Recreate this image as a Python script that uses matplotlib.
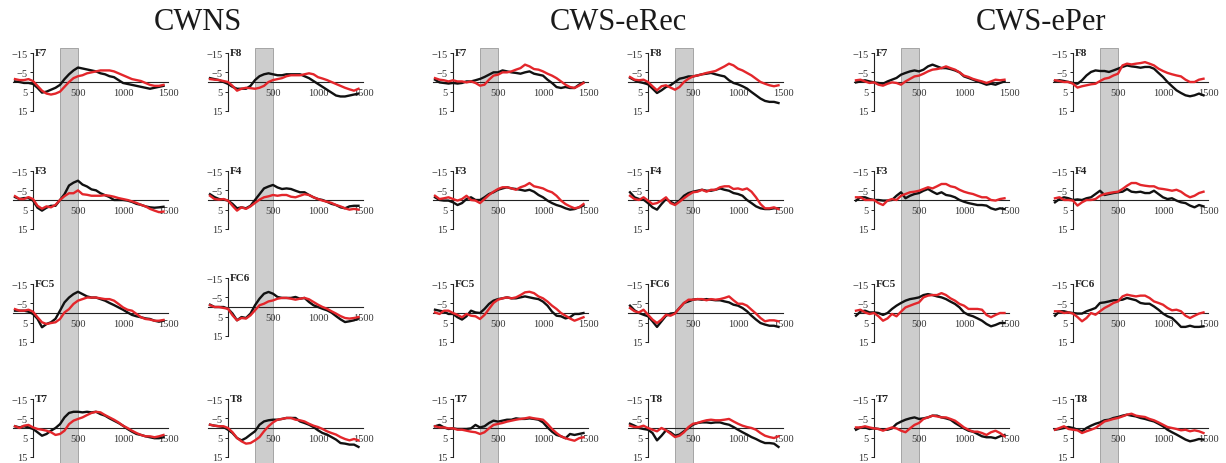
import matplotlib.pyplot as plt
from matplotlib.patches import Rectangle
from matplotlib.transforms import blended_transform_factory

plt.rcParams['font.family'] = ['Liberation Serif', 'DejaVu Serif']

# time axis (ms) and the three groups / electrode layout
times = list(range(-200, 1500, 50))
groups = ['CWNS', 'CWS-eRec', 'CWS-ePer']
channels = [['F7', 'F8'], ['F3', 'F4'], ['FC5', 'FC6'], ['T7', 'T8']]
window = (300, 500)
y_ticks = [-15, -5, 5, 15]
x_ticks = [500, 1000, 1500]

# amplitudes in microvolts (negative up), black and red traces
cwns_f7_k = [-0.3, 0, 0.5, 0.5, 1, 3, 5.5, 5, 4, 3, 1.5, -1.5, -4, -6, -7.5, -7, -6.5, -6, -5.5, -4.5, -4, -3, -2.5, -1, 0.5, 1, 1.5, 2, 2.5, 3, 3.5, 3, 2.5, 2]
cwns_f7_r = [-1.5, -1, -1, -1.5, -0.5, 2, 4.5, 6, 6.5, 6, 5, 2.5, 0, -2, -3, -3.5, -4.5, -5, -5.5, -6, -6, -6, -5.5, -4.5, -3.5, -2.5, -1.5, -1, -0.5, 0.5, 1.5, 2, 2, 1.5]
cwns_f8_k = [-2, -1.5, -1, 0, 1, 2.5, 3.5, 3.5, 3.5, 2, -1, -3, -4, -4.5, -4, -3.5, -3.5, -4, -4, -4, -4, -3, -2, -0.5, 1, 2.5, 4, 5.5, 7, 7.5, 7.5, 7, 6.5, 6]
cwns_f8_r = [-1.5, -1.2, -1, -0.5, 0, 2, 4.5, 3.5, 3, 3.2, 3.5, 3, 2, 0, -1, -1.5, -2, -3, -3.5, -3.5, -3.5, -4, -4.5, -4, -2.5, -1.8, -1, 0, 1, 2, 3, 3.8, 4.5, 3.5]
cwns_f3_k = [-1.5, -0.5, -1, -1, 0.3, 4, 5.5, 4, 3, 3, 0, -3, -7.5, -9, -10, -8, -7, -5.5, -5, -3.5, -2.5, -1.5, 0, 0, 0, 0.3, 1, 2, 2.5, 3.3, 3.8, 4, 3.8, 3.5]
cwns_f3_r = [-2, -0.5, -0.5, -1.5, -0.5, 3, 4.5, 3.3, 3.8, 2.5, 0, -2, -3.5, -3.5, -5, -3, -2.7, -2.2, -2.2, -2.2, -2.5, -2.2, -1.7, -1, -0.5, 0, 0.7, 1.5, 2.5, 3.3, 4.6, 5.5, 6.3, 6]
cwns_f4_k = [-3, -1.5, -0.5, -0.2, 0.3, 2, 4.3, 3.8, 4.3, 3, 0, -3, -6, -7, -7.8, -6.5, -5.7, -6, -5.7, -4.8, -4, -4, -2.6, -1.4, -0.5, 0, 0.9, 2, 2.6, 3.8, 4.3, 3.3, 3, 3]
cwns_f4_r = [-2.2, -0.5, -0.2, -0.5, 0.3, 3, 5.5, 3.8, 4.6, 3.3, 1.5, -0.2, -1.4, -1.9, -2.6, -2.2, -2.6, -2.6, -1.7, -1.4, -2.2, -3, -2.6, -1.4, -0.5, 0.3, 0.9, 1.5, 2.6, 3.3, 4.3, 5, 4.6, 5]
cwns_fc5_k = [-1.2, -1.2, -1.2, -0.7, 0.5, 3, 7.4, 5.7, 4.8, 3, -1.2, -5.5, -8, -9.8, -11, -9.8, -8.6, -8, -8, -7.2, -6.4, -5.2, -4.1, -2.9, -1.7, -0.3, 1, 1.7, 2.2, 2.8, 3.1, 4, 4.5, 4]
cwns_fc5_r = [-2, -1.2, -1.2, -1.7, -0.7, 2.2, 4.8, 5.7, 5.2, 4.8, 3.1, -0.3, -2, -4.7, -6.4, -7.2, -8, -8, -8, -7.6, -7.2, -7.2, -6.4, -4.7, -2.9, -1.7, -1.2, 0.5, 2.2, 3.1, 3.4, 4, 4, 3.6]
cwns_fc6_k = [-1.2, 0, 0, 0, 0.9, 3.4, 6.9, 5.2, 5.7, 3.4, -0.9, -4.3, -6.9, -7.8, -6.9, -5.2, -4.7, -4.7, -4.7, -5.2, -4.3, -4.7, -2.6, -0.9, 0, 0.9, 1.7, 2.9, 4.7, 6.4, 7.8, 7.4, 6.9, 6]
cwns_fc6_r = [-0.9, 0, 0, 0.5, 0.9, 4.3, 6.9, 5.7, 6, 4.3, 1.7, -0.9, -1.7, -2.9, -3.4, -4.3, -4.7, -4.7, -4.3, -3.8, -4.3, -4.7, -4, -2.6, -1.2, 0, 0.9, 2.2, 3.4, 4.7, 5.7, 6, 5.7, 5.2]
cwns_t7_k = [-0.9, -0.3, -0.9, -0.3, 0.5, 2.2, 4, 3.1, 1.4, 0, -2, -5.5, -7.8, -8.4, -8.4, -8.1, -8.4, -8.1, -8.4, -7.2, -6.4, -5, -3.8, -2.6, -1.2, 0.5, 1.9, 3.1, 3.6, 4.3, 4.8, 5.3, 5.3, 4.8]
cwns_t7_r = [-0.9, 0, -1.2, -1.6, -0.3, 0.5, 0.9, 1.4, 2.2, 3.6, 3.1, 1.4, -2, -3.8, -4.7, -5.5, -6.7, -7.8, -8.4, -8.1, -6.7, -5.5, -4.3, -2.9, -1.2, 0, 1.4, 2.6, 3.6, 4.3, 4.3, 4.8, 4.3, 3.6]
cwns_t8_k = [-1.7, -1.2, -0.9, -0.5, 0.9, 2.6, 5.2, 6.4, 5.2, 3.4, 1.7, -1.7, -3.4, -4, -4.3, -4.3, -4.7, -5.2, -5.2, -5.2, -3.4, -2.6, -1.7, -0.5, 1.2, 2.6, 3.4, 4.7, 6, 7.8, 8.1, 8.6, 8.6, 9.8]
cwns_t8_r = [-1.7, -1.2, -0.9, -0.9, 0, 2.2, 5.2, 6.9, 8.1, 7.8, 6.4, 4.7, 1.7, -0.9, -2.9, -4.3, -4.7, -5.2, -5.2, -4.3, -4, -3.4, -2.2, -1.2, -0.5, 0.5, 1.7, 2.6, 3.4, 4.7, 5.7, 6.4, 5.7, 6.4]

erec_f7_k = [-1.2, 0.2, 0.5, 0.8, 0.5, 0.8, 0.5, -0.3, -0.3, -0.9, -1.6, -2.6, -3.8, -5, -5, -6, -5.5, -5, -4.7, -4.3, -5, -5.5, -4.3, -3.8, -3.3, -1.2, 0.5, 2.6, 3.1, 2.6, 3.1, 3.1, 1.4, 0.2]
erec_f7_r = [-2, -1.2, -0.9, -0.3, -0.9, -0.3, -0.3, 0.2, -0.3, 0.5, 1.9, 1.4, -1.2, -3.3, -3.8, -5, -5, -5.5, -6.4, -7.2, -9, -8.1, -6.7, -6.4, -5.5, -4.3, -3.3, -2, -0.3, 1.4, 2.6, 3.1, 1.9, 0.5]
erec_f8_k = [-2.2, -0.9, 0, 0.5, 1.2, 3.4, 5.7, 4.3, 2.6, 1.7, 0, -1.7, -2.2, -2.9, -2.9, -3.4, -4, -4.3, -4.7, -4, -3.4, -2.9, -0.9, 0.5, 1.2, 2.2, 3.4, 5.2, 6.9, 8.6, 9.8, 10.3, 10.3, 10.9]
erec_f8_r = [-2.6, -1.2, -0.9, -1.2, 0, 2.2, 4.3, 2.2, 1.7, 2.9, 4, 2.6, 0, -1.7, -2.9, -3.4, -4, -4.7, -5.2, -5.7, -6.9, -8.1, -9.5, -8.6, -6.9, -6, -4.7, -3.4, -1.7, 0, 0.9, 1.7, 2.2, 1.7]
erec_f3_k = [-1.4, 0, 0.3, 0.3, 1.2, 2.6, 1.6, -0.5, -1.4, 0, 0, -1.4, -3.1, -4, -5.3, -6, -6.6, -6, -5.7, -5.3, -4.8, -5.3, -4.3, -2.6, -1.4, 0.3, 1.6, 2.6, 3.3, 4.3, 5, 4.7, 3.8, 2.9]
erec_f3_r = [-2.2, -0.5, -0.9, -1.4, -0.5, 0.3, -0.5, -2.2, 0, 0.3, 1.6, -0.5, -2.6, -4.3, -5.7, -6.6, -6.6, -6, -5.3, -6.6, -7.4, -8.8, -7.1, -6.6, -6, -4.8, -4, -2.2, 0.3, 2.1, 3.3, 4.3, 3.8, 2.1]
erec_f4_k = [-4, -1.4, -0.5, -0.2, 1.6, 3.8, 5, 2.1, -0.5, 0.9, 2.1, 0.3, -2.2, -3.6, -4.3, -4.8, -5.3, -4.8, -4.8, -5.3, -6, -5.3, -4.8, -3.6, -3.1, -2.2, 0, 1.6, 3.3, 4.3, 4.7, 4.7, 4.3, 4.3]
erec_f4_r = [-2.2, -0.5, 0, -1.4, 0.3, 2.1, 1.6, 0.3, -1.4, 1.6, 2.6, 0.9, -0.9, -2.6, -4, -4.3, -5.3, -4.3, -5.3, -5.3, -6.6, -7.1, -7.1, -5.7, -6, -5.3, -6, -4.3, -1.4, 2.1, 4.3, 4.3, 3.8, 4.7]
erec_fc5_k = [-1.7, -1.2, -0.7, 0.5, 0.5, 2.2, 3.4, 1.7, -1.2, -0.3, 0, -2.1, -4.7, -6.4, -7.2, -7.6, -8.1, -7.6, -7.6, -8.1, -8.6, -8.1, -7.6, -7.2, -5.9, -3.8, -0.7, 1.4, 1.7, 2.8, 2.2, 0.5, 0.5, 0]
erec_fc5_r = [-0.3, 0.5, -1.2, -1.2, 0, 1, 2.2, 0.5, 1.4, 1.7, 3.1, 1, -2.1, -5.2, -6.9, -7.6, -8.1, -7.6, -8.1, -9.3, -10.7, -11, -10.3, -8.6, -7.6, -5.9, -3.8, -2.1, 0, 1.4, 2.8, 4, 3.1, 2.2]
erec_fc6_k = [-3.8, -1.4, 0, 0.9, 1.7, 4.3, 7.2, 4.3, 1.4, 0.3, 0, -2.6, -5.2, -6, -6.9, -7.2, -6.9, -7.2, -6.9, -6.6, -6.6, -6, -5.5, -4.3, -3.8, -2.6, -0.9, 1.4, 3.4, 5.2, 6, 6.6, 6.6, 7.2]
erec_fc6_r = [-2.6, -0.9, -0.3, -1.7, 0.9, 3.4, 5.2, 3.4, 0.9, 1.4, 0.3, -2.6, -5.2, -6.9, -6.9, -7.2, -7.2, -6.6, -7.2, -6.9, -7.2, -7.8, -8.6, -6.6, -4.8, -4.8, -3.8, -1.7, 0.3, 2.6, 4.3, 3.8, 3.8, 4.3]
erec_t7_k = [-0.9, -1.6, -0.3, 0.5, 0.2, 0.5, 0.5, 0.5, 0.2, -1.6, -0.3, -0.9, -2.6, -3.8, -3.3, -3.8, -4.3, -4.3, -5, -4.7, -4.7, -5, -4.7, -4.3, -2.9, -0.3, 1.9, 3.6, 4.3, 5.3, 3.1, 3.6, 3.1, 2.6]
erec_t7_r = [-0.9, -0.3, -0.3, 0.2, 0.2, 0.9, 0.9, 1.4, 1.9, 2.2, 3.1, 2.2, 0.2, -1.6, -2.1, -2.6, -3.3, -3.8, -4.3, -4.7, -5, -5.5, -5, -4.7, -4.3, -2.1, 0.5, 2.6, 4.3, 5.3, 6, 6.6, 5.3, 4.8]
erec_t8_k = [-2.2, -1.2, 0, 0.5, 0.9, 2.6, 6.4, 4, 1.2, 2.2, 4, 3.4, 1.7, 0, -1.7, -2.6, -2.9, -2.9, -2.6, -2.9, -2.9, -2.2, -1.7, -0.5, 0.9, 2.2, 3.4, 4.7, 5.7, 6.9, 7.8, 7.8, 8.1, 9.8]
erec_t8_r = [-1.2, -0.5, -0.5, -1.2, 0, 0.9, 1.7, 0, 1.2, 2.9, 4.7, 4, 2.2, -0.5, -2.2, -2.6, -3.4, -4, -4.3, -4, -4, -4.3, -4.7, -3.4, -2.2, -1.2, -0.5, 0, 0.9, 2.6, 4, 4.7, 5.2, 4.3]

eper_f7_k = [0.2, -0.3, -0.9, -0.3, 0.2, 0.5, 0.9, -0.3, -1.2, -2.1, -3.8, -4.7, -5.5, -6, -5.5, -6.4, -8.1, -9, -8.1, -7.2, -7.2, -6.7, -6, -5, -2.9, -2.1, -1.2, -0.3, 0.5, 1.4, 0.9, 1.4, 0.5, -0.3]
eper_f7_r = [-0.9, -1.2, -0.3, 0.5, 0.2, 1.4, 1.9, 0.9, 0.2, 0.5, 1.4, -0.3, -1.6, -2.9, -3.3, -4.3, -5.5, -6.4, -6.7, -7.2, -8.1, -7.2, -6.4, -5, -3.3, -2.6, -1.6, -0.9, -0.3, 0.5, -0.3, -1.2, -0.9, -1.2]
eper_f8_k = [-0.5, -0.9, -0.5, 0, 0.5, 0.9, -0.9, -3.4, -5.2, -6, -5.7, -5.7, -5.2, -6, -6.9, -7.8, -8.6, -8.1, -7.8, -7.4, -7.8, -7.8, -6.9, -4.7, -2.6, 0, 2.2, 4.3, 5.7, 6.9, 7.4, 6.9, 6, 6.9]
eper_f8_r = [-0.9, -0.5, 0, 0, 0.9, 2.9, 2.2, 1.7, 1.2, 0.9, -0.5, -1.7, -2.2, -3.4, -4.3, -8.6, -9.5, -9.1, -9.5, -9.8, -10.3, -9.5, -8.6, -6.9, -5.7, -4.7, -4, -3.4, -2.9, -1.2, 0, 0, -1.2, -1.7]
eper_f3_k = [0.3, -1.4, -1.4, -0.5, 0, 0, 0.3, 0.3, 0, -2.2, -4, -0.9, -2.2, -3.1, -3.6, -4.8, -5.7, -4.3, -3.1, -4, -2.6, -2.2, -1.4, 0, 0.9, 1.6, 2.1, 2.6, 2.6, 2.9, 4.3, 5, 4.3, 4.7]
eper_f3_r = [-1.4, -1.4, 0, 0, 0, 1.6, 2.6, 0.3, -0.5, 0, -2.2, -3.1, -4, -4.3, -4.8, -5.7, -6.6, -6, -7.1, -8.3, -8.3, -7.1, -6.6, -5.3, -4.3, -3.6, -3.1, -2.2, -1.4, -1.4, 0, 0.3, -0.5, -0.9]
eper_f4_k = [1.2, -0.5, -1.4, -0.9, 0, -0.3, 0, -0.9, -1.4, -3.1, -4.8, -2.6, -3.1, -3.6, -4, -4.3, -5.7, -4.3, -4, -4.3, -3.6, -3.6, -4.8, -3.1, -1.4, -0.5, -0.9, 0.3, 1.2, 1.6, 2.9, 3.8, 2.6, 3.3]
eper_f4_r = [-0.9, -1.4, 0, 0, 0.3, 2.9, 1.2, 0, 0, -0.5, -2.2, -3.1, -3.6, -4, -4.3, -5.7, -7.4, -8.8, -8.8, -7.8, -7.4, -7.1, -7.1, -6, -5.7, -5.3, -4.8, -5.3, -4.3, -2.6, -1.4, -2.2, -3.6, -4.3]
eper_fc5_k = [1.4, -0.7, -1.2, -0.3, -0.3, 0, 1, 0, -2.1, -3.8, -5.2, -6.4, -7.2, -7.6, -8.1, -9.3, -9.8, -9.3, -8.6, -8.1, -7.2, -5.9, -4.7, -2.9, -0.3, 1, 1.7, 2.8, 4, 5.7, 6.9, 6.2, 5.2, 5.2]
eper_fc5_r = [-1.2, -1.7, -0.3, 0.5, 0, 1.7, 4, 2.8, 0.5, 1.7, -0.7, -2.9, -3.8, -4.7, -5.5, -8.1, -9, -9.3, -9.3, -10.3, -9.3, -7.6, -6.4, -4.7, -3.8, -2.1, -2.1, -2.1, -1.7, 1, 2.2, 1, 0, 0]
eper_fc6_k = [1.4, -0.9, -0.9, -0.3, 0, 0.3, 0.3, -0.9, -1.7, -2.6, -5.2, -5.5, -6, -6.6, -6.6, -6.9, -7.8, -7.2, -6.6, -5.2, -4.8, -4.8, -3.4, -1.7, 0.3, 1.7, 2.6, 4.8, 7.2, 7.2, 6.6, 7.2, 7.2, 6.9]
eper_fc6_r = [-0.9, -0.9, 0, -0.3, 0.3, 2.1, 4.3, 2.6, 0, 0.9, -0.9, -2.6, -3.8, -5.2, -6, -8.6, -9.5, -9, -8.6, -9, -9, -7.8, -6, -5.2, -4.3, -2.6, -1.4, -1.7, -0.9, 1.4, 2.6, 1.4, 0.3, -0.3]
eper_t7_k = [0.9, -0.3, -0.3, 0.5, 0.2, 0.5, 0.9, 0.9, 0.2, -2.1, -3.3, -4.3, -5, -5.5, -4.7, -5, -5.5, -6.4, -6.4, -5.5, -5, -4.3, -2.6, -1.2, 0.2, 1.4, 1.9, 3.1, 4.3, 4.8, 4.8, 5.3, 4.3, 3.6]
eper_t7_r = [-0.3, -0.3, -0.9, -0.3, 0.2, 0.5, 1.4, 0.5, -0.3, 0.2, 1.4, 2.2, 0.2, -1.6, -2.6, -4.7, -5.5, -6.4, -6, -5.5, -5.5, -4.7, -3.8, -2.1, -0.3, 0.9, 1.9, 1.9, 2.6, 3.6, 2.2, 1.4, 2.6, 4.3]
eper_t8_k = [0.9, 0.5, 0, -0.5, 0, 0.9, 1.7, 0, -1.2, -2.2, -2.9, -4, -4.3, -5.2, -5.7, -6.4, -6.9, -6.4, -6, -5.2, -4.7, -4, -3.4, -2.2, -0.9, 0.9, 2.2, 3.4, 4.7, 6, 6.9, 6.4, 5.7, 6]
eper_t8_r = [0.9, 0, -0.9, 0.5, 0.9, 1.2, 2.6, 1.7, 0.9, 0, -1.7, -3.4, -4, -4.7, -5.2, -6, -6.9, -7.4, -6.4, -6, -5.7, -4.7, -4, -2.9, -1.7, -0.5, 0, 0.5, 1.2, 0.9, 1.7, 1.2, 1.7, 2.6]

traces = {
    'CWNS': {'F7': (cwns_f7_k, cwns_f7_r), 'F8': (cwns_f8_k, cwns_f8_r),
             'F3': (cwns_f3_k, cwns_f3_r), 'F4': (cwns_f4_k, cwns_f4_r),
             'FC5': (cwns_fc5_k, cwns_fc5_r), 'FC6': (cwns_fc6_k, cwns_fc6_r),
             'T7': (cwns_t7_k, cwns_t7_r), 'T8': (cwns_t8_k, cwns_t8_r)},
    'CWS-eRec': {'F7': (erec_f7_k, erec_f7_r), 'F8': (erec_f8_k, erec_f8_r),
                 'F3': (erec_f3_k, erec_f3_r), 'F4': (erec_f4_k, erec_f4_r),
                 'FC5': (erec_fc5_k, erec_fc5_r), 'FC6': (erec_fc6_k, erec_fc6_r),
                 'T7': (erec_t7_k, erec_t7_r), 'T8': (erec_t8_k, erec_t8_r)},
    'CWS-ePer': {'F7': (eper_f7_k, eper_f7_r), 'F8': (eper_f8_k, eper_f8_r),
                 'F3': (eper_f3_k, eper_f3_r), 'F4': (eper_f4_k, eper_f4_r),
                 'FC5': (eper_fc5_k, eper_fc5_r), 'FC6': (eper_fc6_k, eper_fc6_r),
                 'T7': (eper_t7_k, eper_t7_r), 'T8': (eper_t8_k, eper_t8_r)},
}

# layout in pixels
W, H = 1226, 464
col_x0 = [33, 228, 453, 648, 874, 1073]   # pixel of t = 0 for each column
row_y0 = [83, 201, 314, 429]              # pixel of 0 uV for each row
title_x = [198, 618, 1041]
px_ms, px_uv = 0.09, 1.93
x_lo, x_hi = -230, 1520
y_lim = 17
band_top = 49

fig = plt.figure(figsize=(W / 100, H / 100), dpi=100)

for g, group in enumerate(groups):
    fig.text(title_x[g] / W, 1 - 22 / H, group, ha='center', va='center',
             fontsize=22, color='#1a1a1a')
    for c in range(2):
        x0 = col_x0[2 * g + c]
        top_ax = None
        for r in range(4):
            ch = channels[r][c]
            y0 = row_y0[r]
            if group == 'CWNS' and ch == 'FC6':
                y0 -= 6
            left = x0 + x_lo * px_ms
            width = (x_hi - x_lo) * px_ms
            height = 2 * y_lim * px_uv
            bottom = H - (y0 + y_lim * px_uv)
            ax = fig.add_axes([left / W, bottom / H, width / W, height / H])
            ax.patch.set_visible(False)
            if top_ax is None:
                top_ax = ax

            black, red = traces[group][ch]
            ax.plot(times, black, color='#111111', lw=1.7, zorder=3)
            ax.plot(times, red, color='#e3262b', lw=1.7, zorder=4)

            ax.set_xlim(x_lo, x_hi)
            ax.set_ylim(y_lim, -y_lim)
            for s in ['top', 'right']:
                ax.spines[s].set_visible(False)
            ax.spines['left'].set_position(('data', 0))
            ax.spines['left'].set_bounds(-15, 15)
            ax.spines['bottom'].set_position(('data', 0))
            ax.spines['bottom'].set_bounds(-220, 1500)
            for s in ['left', 'bottom']:
                ax.spines[s].set_linewidth(0.8)
                ax.spines[s].set_color('#222222')

            ax.set_yticks(y_ticks)
            ax.set_yticklabels(['\u221215', '\u22125', '5', '15'])
            ax.set_xticks(x_ticks)
            ax.set_xticklabels([str(t) for t in x_ticks])
            ax.tick_params(axis='y', length=2, width=0.6, pad=2,
                           labelsize=7.5, labelcolor='#333333')
            ax.tick_params(axis='x', length=0, pad=4,
                           labelsize=7.5, labelcolor='#333333')
            ax.text(25, -15.5, ch, fontsize=8, fontweight='bold',
                    ha='left', va='center', color='#222222')

        # shaded window running down the whole column
        tr = blended_transform_factory(top_ax.transData, fig.transFigure)
        band = Rectangle((window[0], 0), window[1] - window[0], 1 - band_top / H,
                         transform=tr, facecolor='#cdcdcd', edgecolor='#9a9a9a',
                         lw=0.6, zorder=-5)
        fig.add_artist(band)

fig.savefig('out.png', dpi=100)
